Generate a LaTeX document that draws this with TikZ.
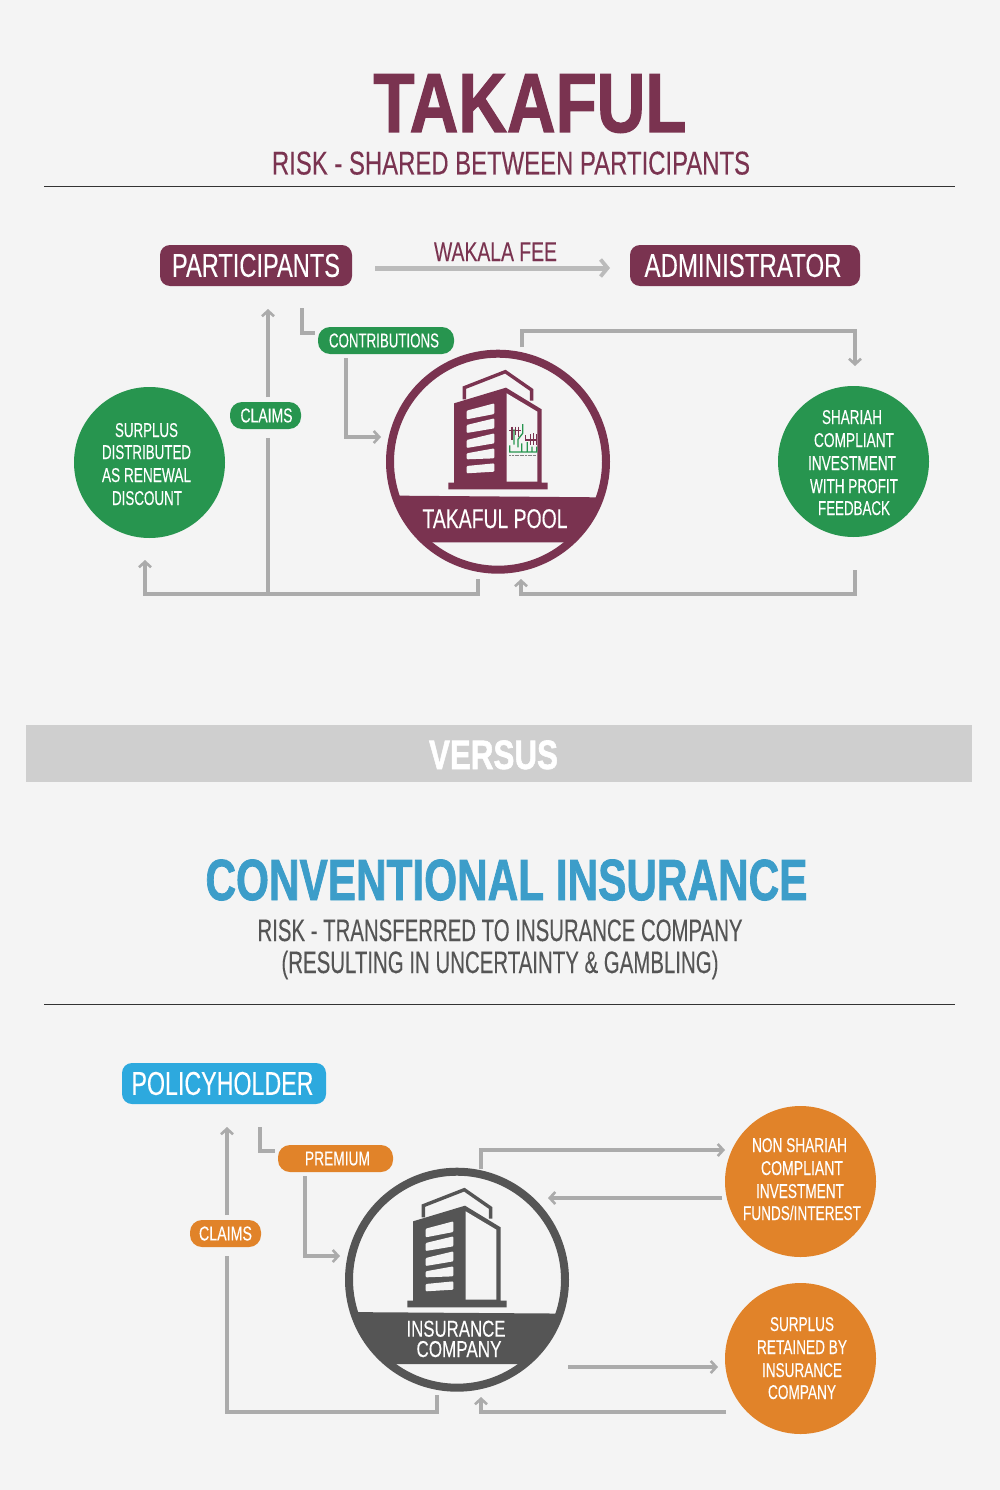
\documentclass[tikz,border=0pt]{standalone}
\usepackage{fontspec}
\usepackage{graphicx}
\setmainfont[FakeBold=0.25,BoldFeatures={FakeBold=1.6}]{Liberation Sans}
\usetikzlibrary{arrows.meta}
\definecolor{bgc}{HTML}{F4F4F4}
\definecolor{maroon}{HTML}{7A3350}
\definecolor{tgreen}{HTML}{27954F}
\definecolor{pblue}{HTML}{2DA9DE}
\definecolor{tblue}{HTML}{3C9DC9}
\definecolor{orng}{HTML}{E18329}
\definecolor{dgrey}{HTML}{555555}
\definecolor{lnc}{HTML}{ABABAB}
\definecolor{wkc}{HTML}{BBBBBB}
\definecolor{band}{HTML}{CFCFCF}
\newcommand\fw[3]{\resizebox{#1pt}{\height}{\fontsize{#2pt}{#2pt}\selectfont #3}}
\newcommand\bldg[3]{%
\begin{scope}[shift={(#1,#2)},x=0.33333pt,y=-0.33333pt]
\fill[#3] (222,190)--(378,143)--(485,208)--(485,428)--(503,428)--(503,448)--(205,448)--(205,428)--(222,428)--cycle;
\fill[bgc] (380,160)--(472,215)--(472,425)--(380,425)--cycle;
\draw[#3,line width=3.4pt,miter limit=10] (253,178)--(253,143)--(376,95)--(455,150)--(455,182);
\fill[bgc,rounded corners=1pt] (260,212)--(343,190)--(343,222)--(260,238)--cycle;
\fill[bgc,rounded corners=1pt] (260,255)--(343,235)--(343,265)--(260,279)--cycle;
\fill[bgc,rounded corners=1pt] (260,300)--(343,280)--(343,310)--(260,324)--cycle;
\fill[bgc,rounded corners=1pt] (260,340)--(343,325)--(343,355)--(260,358)--cycle;
\fill[bgc,rounded corners=1pt] (260,378)--(343,370)--(343,395)--(260,400)--cycle;
\end{scope}}
\tikzset{
  x=1pt,y=-1pt,
  lbl/.style={anchor=base,inner sep=0pt,outer sep=0pt},
  pill/.style={rounded corners=#1,inner sep=0pt,outer sep=0pt,text=white},
  disc/.style={circle,inner sep=0pt,outer sep=0pt,minimum size=151pt},
  ring/.style={circle,inner sep=0pt,minimum size=216pt,line width=8pt,fill=bgc},
  rulel/.style={draw=black!80,line width=0.8pt},
  conn/.style={draw=lnc,line width=3.05pt},
  carrow/.style={conn,-{Straight Barb[length=5.5pt,width=12pt,line width=2.6pt]}},
  wk/.style={draw=wkc,line width=5pt,-{Straight Barb[length=7pt,width=17pt,line width=3.8pt]}},
}
\begin{document}
\begin{tikzpicture}
\useasboundingbox (0,0) rectangle (1000,1490);
\fill[bgc] (0,0) rectangle (1000,1490);
% headings
\node[lbl,text=maroon] (t1) at (530,132) {\fw{313}{84}{\bfseries TAKAFUL}};
\node[lbl,text=maroon] (t2) at (511,174.5) {\fw{478}{33}{RISK - SHARED BETWEEN PARTICIPANTS}};
\coordinate (r1a) at (44,186.5); \coordinate (r1b) at (955,186.5);
\draw[rulel] (r1a)--(r1b);
% takaful boxes
\node[pill=10pt,fill=maroon,minimum width=192pt,minimum height=41pt] (participants) at (256,265.5) {\fw{168}{33}{PARTICIPANTS}};
\node[pill=10pt,fill=maroon,minimum width=230pt,minimum height=41pt] (administrator) at (745,265.5) {\fw{197}{33}{ADMINISTRATOR}\hspace*{4pt}};
\node[lbl,text=maroon] (wakala) at (495.5,261) {\fw{123}{27}{WAKALA FEE}};
\node[pill=12pt,fill=tgreen,minimum width=136pt,minimum height=27pt] (contributions) at (386,340.5) {\fw{110}{20}{CONTRIBUTIONS}\hspace*{4pt}};
\node[pill=12pt,fill=tgreen,minimum width=71pt,minimum height=27pt] (claimsa) at (265.5,415.5) {\hspace*{2pt}\fw{52}{20}{CLAIMS}};
% takaful discs
\node[disc,fill=tgreen] (surplus) at (149.5,462.5) {};
\node[lbl,text=white] (s1) at (146.5,437) {\fw{63}{20}{SURPLUS}};
\node[lbl,text=white] (s2) at (146.5,459) {\fw{89}{20}{DISTRIBUTED}};
\node[lbl,text=white] (s3) at (146.5,482) {\fw{89}{20}{AS RENEWAL}};
\node[lbl,text=white] (s4) at (147,505) {\fw{70}{20}{DISCOUNT}};
\node[disc,fill=tgreen] (shariah) at (853.5,461.5) {};
\node[lbl,text=white] (h1) at (852,424) {\fw{60}{20}{SHARIAH}};
\node[lbl,text=white] (h2) at (854,447) {\fw{80}{20}{COMPLIANT}};
\node[lbl,text=white] (h3) at (852,470) {\fw{88}{20}{INVESTMENT}};
\node[lbl,text=white] (h4) at (854,493) {\fw{88}{20}{WITH PROFIT}};
\node[lbl,text=white] (h5) at (854,515) {\fw{72}{20}{FEEDBACK}};
% takaful pool
\node[ring,draw=maroon] (pool) at (498,461.7) {};
\begin{scope}
\clip (498,461.7) circle (110pt);
\fill[maroon] (380,495.5)--(620,497.5)--(620,542.3)--(380,542.3)--cycle;
\end{scope}
\bldg{380}{340}{maroon}
\begin{scope}[shift={(380,340)},x=0.33333pt,y=-0.33333pt,line width=1.3pt]
\draw[maroon] (388,272)--(424,272) (396,260)--(396,300) (406,260)--(406,284) (416,260)--(416,292)
  (452,282)--(452,316) (461,280)--(461,316) (470,282)--(470,316) (436,300)--(470,300) (436,286)--(436,300);
\draw[tgreen] (428,252)--(428,280)--(414,298)--(414,322) (402,268)--(402,314)
  (389,316)--(389,336)--(470,336)--(470,320) (425,310)--(425,336) (442,306)--(442,336) (456,320)--(456,336);
\draw[gray,line width=0.8pt,dash pattern=on 2pt off 0.6pt] (388,346)--(468,346);
\end{scope}
\node[lbl,text=white] (poollabel) at (495,528) {\fw{145}{27}{TAKAFUL POOL}};
% takaful connectors
\coordinate (wa) at (375,268); \coordinate (wb) at (610,268);
\draw[wk] (wa)--(wb);
\coordinate (cl0) at (268,594); \coordinate (cl1) at (268,438); \coordinate (cl2) at (268,397); \coordinate (cl3) at (268,309);
\draw[conn] (cl0)--(cl1);
\draw[carrow] (cl2)--(cl3);
\coordinate (la) at (302,308); \coordinate (lb) at (302,333); \coordinate (lc) at (315,333);
\draw[conn] (la)--(lb)--(lc);
\coordinate (ca) at (346,358); \coordinate (cb) at (346,437); \coordinate (cc) at (381,437);
\draw[carrow] (ca)--(cb)--(cc);
\coordinate (ba) at (478,579); \coordinate (bb) at (478,594); \coordinate (bc) at (145,594); \coordinate (bd) at (145,560);
\draw[carrow] (ba)--(bb)--(bc)--(bd);
\coordinate (ra) at (855,570); \coordinate (rb) at (855,594); \coordinate (rc) at (521,594); \coordinate (rd) at (521,579);
\draw[carrow] (ra)--(rb)--(rc)--(rd);
\coordinate (ta) at (522,347); \coordinate (tb) at (522,331); \coordinate (tc) at (855,331); \coordinate (td) at (855,366);
\draw[carrow] (ta)--(tb)--(tc)--(td);
% versus
\node[fill=band,inner sep=0pt,minimum width=946pt,minimum height=57pt] (versusband) at (499,753.5) {};
\node[lbl,text=white] (versus) at (493.5,769) {\fw{129}{41}{\bfseries VERSUS}};
% conventional heading
\node[lbl,text=tblue] (c1) at (506.5,900) {\fw{602}{58}{\bfseries CONVENTIONAL INSURANCE}};
\node[lbl,text=dgrey] (c2) at (500,941) {\fw{485}{31}{RISK - TRANSFERRED TO INSURANCE COMPANY}};
\node[lbl,text=dgrey] (c3) at (500,973) {\fw{437}{31}{(RESULTING IN UNCERTAINTY \& GAMBLING)}};
\coordinate (r2a) at (44,1004.5); \coordinate (r2b) at (955,1004.5);
\draw[rulel] (r2a)--(r2b);
% insurance boxes
\node[pill=10pt,fill=pblue,minimum width=204pt,minimum height=41pt] (policyholder) at (224,1083.5) {\fw{182}{33}{POLICYHOLDER}\hspace*{3pt}};
\node[pill=12pt,fill=orng,minimum width=115pt,minimum height=27pt] (premium) at (335.5,1158.5) {\hspace*{4pt}\fw{65}{20}{PREMIUM}};
\node[pill=12pt,fill=orng,minimum width=71pt,minimum height=27pt] (claimsb) at (225.5,1233.5) {\fw{53}{20}{CLAIMS}};
% orange discs
\node[disc,fill=orng] (nonshariah) at (800.5,1181.5) {};
\node[lbl,text=white] (n1) at (799.5,1152) {\fw{95}{20}{NON SHARIAH}};
\node[lbl,text=white] (n2) at (802,1175) {\fw{82}{20}{COMPLIANT}};
\node[lbl,text=white] (n3) at (800,1198) {\fw{88}{20}{INVESTMENT}};
\node[lbl,text=white] (n4) at (802,1220) {\fw{118}{20}{FUNDS/INTEREST}};
\node[disc,fill=orng] (retained) at (800.5,1358.5) {};
\node[lbl,text=white] (e1) at (802,1331) {\fw{64}{20}{SURPLUS}};
\node[lbl,text=white] (e2) at (802,1354) {\fw{90}{20}{RETAINED BY}};
\node[lbl,text=white] (e3) at (802,1377) {\fw{80}{20}{INSURANCE}};
\node[lbl,text=white] (e4) at (802,1399) {\fw{68}{20}{COMPANY}};
% insurance company
\node[ring,draw=dgrey] (company) at (457,1279.7) {};
\begin{scope}
\clip (457,1279.7) circle (110pt);
\fill[dgrey] (340,1312)--(580,1313.7)--(580,1364)--(340,1364)--cycle;
\end{scope}
\bldg{339}{1158}{dgrey}
\node[lbl,text=white] (co1) at (456,1336.7) {\fw{99}{23}{INSURANCE}};
\node[lbl,text=white] (co2) at (459,1357) {\fw{85}{23}{COMPANY}};
% insurance connectors
\coordinate (ia) at (437,1395); \coordinate (ib) at (437,1412); \coordinate (ic) at (227,1412); \coordinate (id) at (227,1256);
\draw[conn] (ia)--(ib)--(ic)--(id);
\coordinate (ie) at (227,1215); \coordinate (if) at (227,1127);
\draw[carrow] (ie)--(if);
\coordinate (ja) at (260,1127); \coordinate (jb) at (260,1151); \coordinate (jc) at (275,1151);
\draw[conn] (ja)--(jb)--(jc);
\coordinate (pa) at (305,1176); \coordinate (pb) at (305,1256); \coordinate (pc) at (340,1256);
\draw[carrow] (pa)--(pb)--(pc);
\coordinate (ka) at (481,1169); \coordinate (kb) at (481,1150); \coordinate (kc) at (725,1150);
\draw[carrow] (ka)--(kb)--(kc);
\coordinate (ma) at (722,1198); \coordinate (mb) at (548,1198);
\draw[carrow] (ma)--(mb);
\coordinate (oa) at (568,1367); \coordinate (ob) at (718,1367);
\draw[carrow] (oa)--(ob);
\coordinate (qa) at (726,1412); \coordinate (qb) at (481,1412); \coordinate (qc) at (481,1397);
\draw[carrow] (qa)--(qb)--(qc);
\end{tikzpicture}
\end{document}
